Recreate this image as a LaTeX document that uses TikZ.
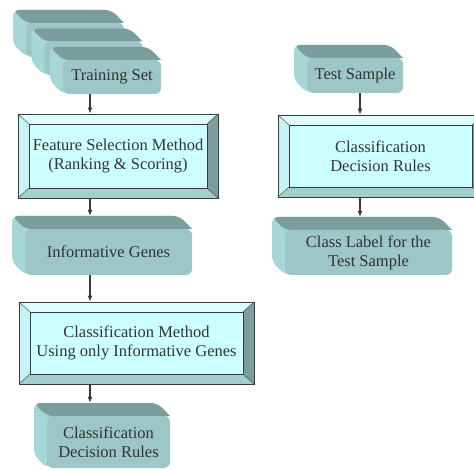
\documentclass[tikz,border=0pt]{standalone}
\usepackage{fontspec}
\setmainfont{Liberation Serif}
\usetikzlibrary{arrows.meta,calc}

\definecolor{textgray}{HTML}{333333}
\definecolor{edgegray}{HTML}{3A3A3A}
\definecolor{bevelface}{HTML}{CCFFFF}
\definecolor{bevellit}{HTML}{DDFFFF}
\definecolor{bevelside}{HTML}{C6F4F4}
\definecolor{bevelshade}{HTML}{A3CFCE}
\definecolor{beveldark}{HTML}{7C9E9C}
\definecolor{slabfront}{HTML}{9CC7C6}
\definecolor{slabtop}{HTML}{7A9E9C}
\definecolor{slabside}{HTML}{A6D6D5}

% slab: depth faces first, then the named front node
% #1 name, #2 centre, #3 width, #4 height, #5 text
\newcommand{\slabnode}[5]{%
  \begin{scope}[shift={(#2)}]
    \fill[slabside,rounded corners=6pt]
      (#3/2,-#4/2) -- (#3/2-13,-#4/2-13) -- (-#3/2-13,-#4/2-13)
      -- (-#3/2-13,#4/2-13) -- (-#3/2,#4/2) -- cycle;
    \fill[slabtop]
      (#3/2,-#4/2) [rounded corners=6pt] -- (#3/2-13,-#4/2-13) -- (-#3/2-13,-#4/2-13)
      -- (-#3/2,-#4/2) [sharp corners] -- cycle;
  \end{scope}
  \node[slab,minimum width=#3pt,minimum height=#4pt] (#1) at (#2) {#5};
}

\begin{document}
\begin{tikzpicture}[
  x=1pt,
  y=-1pt,
  font=\fontsize{16.5}{19}\selectfont,
  line/.style={draw=edgegray,line width=1.1pt},
  arrow/.style={line,-{Latex[length=6pt,width=5pt]}},
  slab/.style={fill=slabfront,rounded corners=6pt,text=textgray,align=center,inner sep=0pt},
  bevel/.style={draw=edgegray,line width=0.8pt,fill=bevelface,text=textgray,align=center,inner sep=0pt,
    path picture={
      \coordinate (o1) at (path picture bounding box.north west);
      \coordinate (o2) at (path picture bounding box.north east);
      \coordinate (o3) at (path picture bounding box.south east);
      \coordinate (o4) at (path picture bounding box.south west);
      \coordinate (i1) at ([shift={(11pt,-10pt)}]o1);
      \coordinate (i2) at ([shift={(-11pt,-10pt)}]o2);
      \coordinate (i3) at ([shift={(-11pt,10pt)}]o3);
      \coordinate (i4) at ([shift={(11pt,10pt)}]o4);
      \fill[bevellit] (o1) -- (o2) -- (i2) -- (i1) -- cycle;
      \fill[bevelside] (o1) -- (i1) -- (i4) -- (o4) -- cycle;
      \fill[bevelshade] (o4) -- (i4) -- (i3) -- (o3) -- cycle;
      \fill[beveldark] (o3) -- (i3) -- (i2) -- (o2) -- cycle;
      \draw[edgegray,line width=0.4pt] (o1) -- (i1) (o2) -- (i2) (o3) -- (i3) (o4) -- (i4);
      \draw[edgegray,line width=0.7pt] (i1) rectangle (i3);
    }}
]
\useasboundingbox (0,0) rectangle (474,470);

% Arrow columns
\coordinate (colL) at (90,0);
\coordinate (colR) at (360,0);

% Training stack
\slabnode{train1}{75,40}{98}{34}{}
\slabnode{train2}{93.5,58.5}{98}{34}{}
\slabnode{train3}{112,77}{98}{34}{Training Set}

% Left column
\node[bevel,minimum width=200pt,minimum height=84pt] (feat) at (118,156)
  {Feature Selection Method\\(Ranking \& Scoring)};

\slabnode{genes}{108.5,252}{167}{46}{Informative Genes}

\node[bevel,minimum width=235pt,minimum height=82pt] (method) at (136.5,343)
  {Classification Method\\Using only Informative Genes};

\slabnode{rules}{108.5,442}{123}{52}{Classification\\Decision Rules}

% Right column
\slabnode{test}{355,75.5}{96}{35}{Test Sample}

\node[bevel,minimum width=205pt,minimum height=82pt] (decide) at (380.5,156)
  {Classification\\Decision Rules};

\slabnode{label}{368.5,252.5}{167}{45}{Class Label for the\\Test Sample}

% Connectors
\draw[arrow] (train3.south -| colL) -- (feat.north -| colL);
\draw[arrow] (feat.south -| colL) -- ($(genes.north -| colL)+(0pt,13pt)$);
\draw[arrow] (genes.south -| colL) -- (method.north -| colL);
\draw[arrow] (method.south -| colL) -- ($(rules.north -| colL)+(0pt,13pt)$);
\draw[arrow] (test.south -| colR) -- (decide.north -| colR);
\draw[arrow] (decide.south -| colR) -- ($(label.north -| colR)+(0pt,13pt)$);

\end{tikzpicture}
\end{document}
